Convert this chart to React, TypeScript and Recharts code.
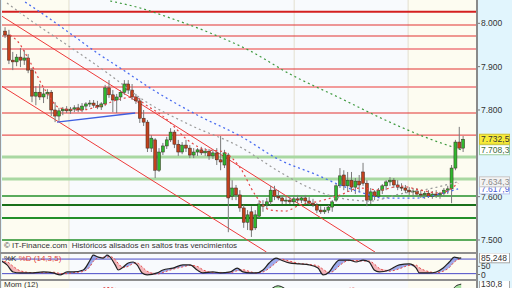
import React from "react";
import {
  ComposedChart,
  Bar,
  Line,
  Area,
  XAxis,
  YAxis,
  ReferenceLine,
  ReferenceArea,
} from "recharts";

// ─── Data (index points) ─────────────────────────────────────────────────────

const openP = [
  7982, 7973, 7915, 7911, 7922, 7915, 7920, 7892, 7832, 7841,
  7830, 7837, 7841, 7800, 7786, 7798, 7802, 7798, 7802, 7805,
  7800, 7809, 7814, 7816, 7811, 7807, 7814, 7851, 7835, 7823,
  7830, 7841, 7860, 7846, 7830, 7821, 7781, 7772, 7712, 7731,
  7661, 7703, 7717, 7731, 7749, 7721, 7703, 7719, 7712, 7696,
  7703, 7708, 7701, 7705, 7694, 7701, 7685, 7673, 7696, 7601,
  7620, 7604, 7574, 7541, 7565, 7528, 7555, 7578, 7581, 7588,
  7615, 7601, 7597, 7590, 7592, 7588, 7595, 7592, 7597, 7590,
  7585, 7581, 7569, 7565, 7569, 7576, 7592, 7625, 7650, 7625,
  7638, 7622, 7636, 7657, 7631, 7592, 7611, 7601, 7615, 7625,
  7634, 7638, 7627, 7622, 7620, 7615, 7611, 7613, 7606, 7604,
  7608, 7601, 7606, 7604, 7608, 7615, 7618, 7666, 7726, 7712,
];
const highP = [
  7991, 7985, 7934, 7929, 7943, 7938, 7929, 7897, 7855, 7860,
  7851, 7848, 7846, 7818, 7805, 7807, 7809, 7807, 7811, 7814,
  7816, 7818, 7823, 7823, 7821, 7818, 7858, 7869, 7846, 7837,
  7846, 7869, 7869, 7860, 7837, 7828, 7800, 7777, 7742, 7735,
  7712, 7724, 7738, 7758, 7754, 7731, 7726, 7731, 7719, 7712,
  7712, 7715, 7712, 7710, 7708, 7712, 7740, 7708, 7701, 7638,
  7627, 7615, 7581, 7569, 7578, 7569, 7592, 7592, 7597, 7625,
  7625, 7615, 7604, 7599, 7601, 7601, 7604, 7601, 7604, 7599,
  7595, 7585, 7578, 7576, 7581, 7592, 7631, 7666, 7661, 7657,
  7657, 7643, 7650, 7678, 7638, 7620, 7615, 7620, 7629, 7638,
  7645, 7643, 7638, 7631, 7627, 7622, 7620, 7620, 7615, 7613,
  7615, 7613, 7615, 7611, 7620, 7625, 7673, 7731, 7761, 7740,
];
const lowP = [
  7966, 7906, 7892, 7901, 7899, 7904, 7885, 7818, 7811, 7823,
  7816, 7825, 7786, 7772, 7775, 7788, 7793, 7791, 7795, 7795,
  7795, 7802, 7807, 7805, 7802, 7800, 7809, 7828, 7795, 7793,
  7821, 7835, 7837, 7823, 7814, 7770, 7763, 7703, 7703, 7643,
  7657, 7696, 7710, 7726, 7712, 7694, 7698, 7703, 7689, 7689,
  7694, 7696, 7694, 7685, 7687, 7673, 7661, 7666, 7518, 7592,
  7592, 7565, 7528, 7523, 7507, 7523, 7551, 7565, 7574, 7581,
  7592, 7592, 7583, 7583, 7583, 7583, 7585, 7585, 7585, 7581,
  7576, 7562, 7560, 7560, 7562, 7565, 7588, 7620, 7615, 7611,
  7611, 7606, 7611, 7625, 7578, 7583, 7592, 7597, 7606, 7615,
  7625, 7620, 7615, 7613, 7608, 7604, 7601, 7601, 7597, 7595,
  7597, 7595, 7597, 7595, 7601, 7606, 7585, 7661, 7708, 7703,
];
const closeP = [
  7973, 7915, 7911, 7922, 7915, 7920, 7892, 7832, 7841, 7830,
  7837, 7841, 7800, 7786, 7798, 7802, 7798, 7802, 7805, 7800,
  7809, 7814, 7816, 7811, 7807, 7814, 7851, 7835, 7823, 7830,
  7841, 7860, 7846, 7830, 7821, 7781, 7772, 7712, 7735, 7661,
  7703, 7717, 7731, 7749, 7721, 7703, 7719, 7712, 7696, 7703,
  7708, 7701, 7705, 7694, 7701, 7685, 7680, 7701, 7597, 7620,
  7604, 7574, 7541, 7558, 7523, 7558, 7583, 7581, 7588, 7615,
  7601, 7597, 7590, 7592, 7588, 7595, 7592, 7597, 7590, 7585,
  7581, 7569, 7565, 7569, 7576, 7588, 7625, 7648, 7625, 7638,
  7622, 7636, 7627, 7631, 7592, 7611, 7601, 7615, 7625, 7634,
  7638, 7627, 7622, 7620, 7615, 7611, 7613, 7606, 7604, 7608,
  7601, 7606, 7604, 7608, 7615, 7618, 7666, 7726, 7712, 7732.5,
];

// moving averages: [bar index, value]
const maLong: [number, number][] = [
  [27.3, 8051.5], [35.1, 8035.3], [42.9, 8012.3], [53.3, 7977.6], [63.7, 7936.1],
  [74.0, 7883.0], [87.0, 7827.6], [98.2, 7779.1], [103.4, 7758.4], [110.4, 7733.0],
  [118.5, 7708.3],
];
const maMid: [number, number][] = [
  [5.2, 8049.2], [11.7, 8010.0], [18.2, 7968.4], [24.7, 7926.9], [29.9, 7896.9],
  [38.5, 7846.1], [49.9, 7788.4], [61.1, 7739.9], [71.4, 7684.5], [81.1, 7649.9],
  [87.0, 7626.8], [93.0, 7608.4], [98.2, 7596.8], [107.0, 7596.8], [113.8, 7608.4],
  [117.7, 7617.9],
];
const maGray: [number, number][] = [
  [0.5, 8046.9], [6.5, 8007.6], [16.9, 7945.3], [27.3, 7880.7], [35.9, 7823.0],
  [48.1, 7765.3], [61.1, 7714.5], [71.4, 7656.8], [79.2, 7619.9], [87.0, 7596.8],
  [94.8, 7589.9], [102.6, 7606.1], [111.2, 7619.9], [117.7, 7634.3],
];
const maShort: [number, number][] = [
  [1.3, 7973.0], [3.4, 7956.9], [6.5, 7910.7], [10.4, 7846.1], [14.3, 7804.5],
  [19.5, 7799.9], [24.7, 7809.2], [29.9, 7825.3], [33.8, 7829.9], [35.9, 7816.1],
  [41.6, 7781.5], [48.1, 7726.1], [52.5, 7707.6], [55.9, 7705.3], [61.1, 7666.1],
  [65.0, 7603.8], [68.9, 7569.1], [72.8, 7566.8], [76.6, 7580.7], [81.8, 7589.9],
  [87.0, 7603.8], [92.2, 7619.9], [97.4, 7615.3], [102.6, 7624.5], [107.8, 7615.3],
  [113.0, 7608.4], [117.7, 7631.4],
];

// horizontal support / resistance levels
const redLevels = [8026.8, 7996.1, 7970.7, 7940.7, 7894.6, 7853.0, 7793.0, 7742.2];
const greenLevels = [7691.5, 7640.7, 7601.5, 7580.7, 7550.7, 7500];

// drawn channel lines and support line: [x1, y1, x2, y2]
const channelLines: [number, number, number, number][] = [
  [-0.8, 8016.2, 96.1, 7472.3],
  [-0.8, 7854.6, 67.9, 7472.3],
];
const supportLine: [number, number, number, number] = [13.5, 7772, 33.8, 7793];

const periodBreaks = [16.6, 75.1, 104.7];
const priceTicks = [7500, 7600, 7617.9, 7634.3, 7708.3, 7732.5, 7800, 7900, 8000];

// stochastic %K %D (14,3,5)
const stochX = [
  -1.3, 0.5, 2.1, 3.9, 7.3, 9.9, 12.5, 14.3, 16.1, 17.7,
  20.3, 22.1, 22.9, 24.2, 25.5, 26.5, 27.3, 28.6, 29.4, 30.7,
  32.0, 33.3, 34.3, 35.6, 36.9, 39.5, 41.0, 43.6, 46.2, 48.1,
  49.9, 51.4, 54.0, 55.9, 58.5, 60.3, 61.8, 63.7, 65.2, 67.0,
  68.6, 70.4, 71.7, 73.8, 76.4, 79.0, 81.3, 82.6, 84.2, 85.5,
  86.8, 89.4, 91.2, 93.0, 94.6, 95.9, 97.2, 99.8, 102.4, 105.0,
  106.8, 107.6, 110.2, 112.0, 113.8, 115.4, 116.7, 118.0, 118.5,
];
const stochK = [
  76, 56, 27, 23, 23, 27, 23, 15, 27, 27,
  35, 76, 96, 88, 84, 96, 88, 56, 35, 47,
  64, 68, 56, 23, 15, 23, 35, 43, 56, 56,
  35, 23, 27, 23, 27, 43, 27, 23, 23, 35,
  64, 84, 76, 64, 60, 56, 43, 15, 27, 56,
  76, 76, 68, 76, 68, 35, 27, 35, 56, 60,
  43, 23, 23, 27, 43, 68, 88, 84, 85.248,
];
const stochD = [
  70, 68, 50, 32, 24, 24, 26, 21, 20, 24,
  29, 50, 70, 85, 88, 88, 90, 78, 62, 45,
  50, 62, 64, 48, 30, 18, 25, 38, 48, 54,
  50, 36, 24, 25, 24, 32, 36, 28, 23, 27,
  42, 65, 80, 72, 62, 58, 52, 38, 24, 32,
  52, 74, 74, 72, 72, 60, 42, 30, 40, 54,
  55, 45, 28, 24, 30, 45, 68, 80, 83,
];
const stochTicks = [0, 50, 85.248];

// momentum (12)
const momX = [-1, 8, 16, 22, 26, 30, 38, 45, 52, 58, 64, 68, 71, 74, 80, 84, 87, 90, 95, 102, 110, 114, 116, 117, 118.5];
const momV = [-80, -200, -120, 20, 60, -10, -250, -100, -80, -300, -250, 40, 115, 60, -20, -60, 80, 60, -40, -10, -30, -20, 60, 110, 130.8];
const momSig = [-40, -120, -130, -40, 100, 80, -100, -160, -100, -150, -260, -100, 20, 60, 30, -20, 40, 95, 40, 0, -20, -20, 0, 40, 70];
const momTicks = [130.8];

// ─── Tables for the library ───────────────────────────────────────────────────

const candles = openP.map((o, i) => ({
  i, open: o, high: highP[i], low: lowP[i], close: closeP[i], range: [lowP[i], highP[i]],
}));
const series = (pts: [number, number][]) => pts.map(([i, v]) => ({ i, v }));
const stochData = stochX.map((i, j) => {
  const k = stochK[j], d = stochD[j];
  return { i, k, d, up: k >= d ? [d, k] : [k, k], dn: k < d ? [k, d] : [k, k] };
});
const momData = momX.map((i, j) => ({ i, m: momV[j], s: momSig[j] }));

const X_DOMAIN: [number, number] = [-0.8, 122.6];
const AXIS_X = 477;
const FONT = '"Liberation Sans", Arial, sans-serif';

// Spanish number style: 7.732,5
const fmt = (v: number) => {
  const dec = Math.abs(v - Math.round(v)) < 1e-6 ? 0 : Math.abs(v * 10 - Math.round(v * 10)) < 1e-6 ? 1 : 3;
  const [int, frac] = v.toFixed(dec).split(".");
  return int.replace(/\B(?=(\d{3})+(?!\d))/g, ".") + (frac ? "," + frac : "");
};

// ─── Shapes ───────────────────────────────────────────────────────────────────

const Candle = (props: any) => {
  const { x, y, width, height, payload } = props;
  if (height == null || !payload) return null;
  const top = Math.min(y, y + height);
  const h = Math.abs(height);
  const { open, high, low, close } = payload;
  const span = high - low || 1;
  const py = (p: number) => top + ((high - p) / span) * h;
  const cx = x + width / 2;
  const up = close >= open;
  const bt = py(Math.max(open, close));
  const bb = py(Math.min(open, close));
  return (
    <g>
      <line x1={cx} x2={cx} y1={top} y2={top + h} stroke="#7a7a7a" strokeWidth={1} />
      <rect
        x={cx - 1.5} y={bt} width={3} height={Math.max(1, bb - bt)}
        fill={up ? "#2fb82f" : "#c2411d"} stroke="#3b2a22" strokeWidth={0.5}
      />
    </g>
  );
};

const TAGS: Record<string, { bg: string; border: string; color: string }> = {
  "7732.5": { bg: "#f7ec3a", border: "#cfc031", color: "#333" },
  "7708.3": { bg: "#ffffff", border: "#9dcf9d", color: "#3e6b3e" },
  "7634.3": { bg: "#f3f3f3", border: "#c8c8c8", color: "#8a8a8a" },
  "7617.9": { bg: "#ffffff", border: "#b9c4ee", color: "#4a62d8" },
  "85.248": { bg: "#ffffff", border: "#a8a8a8", color: "#333" },
  "130.8": { bg: "#ffffff", border: "#a8a8a8", color: "#333" },
};

const AxisTick = ({ y, payload, lift = 0 }: any) => {
  const v = payload.value as number;
  const tag = TAGS[String(v)];
  const ty = y - (v === 0 ? lift : 0);
  return (
    <g>
      {!tag && <line x1={AXIS_X} x2={AXIS_X + 3} y1={ty} y2={ty} stroke="#777" />}
      {tag && (
        <rect x={AXIS_X + 2.5} y={ty - 5} width={30} height={10} fill={tag.bg} stroke={tag.border} strokeWidth={1} />
      )}
      <text x={AXIS_X + 4} y={ty + 3} fontSize={8.5} fontFamily={FONT} fill={tag ? tag.color : "#333"}>
        {fmt(v)}
      </text>
    </g>
  );
};

const backdrop = () => [
  <ReferenceArea key="b0" x1={X_DOMAIN[0]} x2={periodBreaks[0]} fill="#fdfcf1" fillOpacity={1} stroke="none" zIndex={5} />,
  <ReferenceArea key="b1" x1={periodBreaks[0]} x2={periodBreaks[2]} fill="#f8fafd" fillOpacity={1} stroke="none" zIndex={5} />,
  <ReferenceArea key="b2" x1={periodBreaks[2]} x2={X_DOMAIN[1]} fill="#fdfcf1" fillOpacity={1} stroke="none" zIndex={5} />,
];
const gridLines = () =>
  periodBreaks.map((b) => <ReferenceLine key={"g" + b} x={b} stroke="#e3dfcf" strokeWidth={1} zIndex={6} />);

// ─── Component ────────────────────────────────────────────────────────────────

export default function App() {
  const margin = { top: 0, right: 0, bottom: 0, left: 2 };
  return (
    <div style={s.wrap}>
      <style>{"body{margin:0}"}</style>

      {/* Price panel */}
      <div style={{ position: "absolute", left: 0, top: 0 }}>
        <ComposedChart width={512} height={252} data={candles} margin={margin}>
          <XAxis type="number" dataKey="i" domain={X_DOMAIN} hide allowDataOverflow />
          <YAxis
            orientation="right" width={35} domain={[7472.3, 8053.8]} allowDataOverflow
            ticks={priceTicks} interval={0} tick={<AxisTick />} axisLine={false} tickLine={false}
          />
          {backdrop()}
          {gridLines()}
          {redLevels.map((lv, k) => (
            <ReferenceLine
              key={lv} y={lv} zIndex={7}
              stroke={k === 0 ? "#d42020" : k === 3 || k === 5 ? "#f29a9a" : k === 7 ? "#e85a5a" : "#e23232"}
              strokeWidth={k === 0 ? 2 : k === 3 || k === 5 ? 2.2 : 1.2}
            />
          ))}
          {greenLevels.map((lv, k) => (
            <ReferenceLine
              key={lv} y={lv} zIndex={7}
              stroke={k < 2 ? "#a9d8a2" : k === 3 ? "#19701a" : "#23902a"}
              strokeWidth={k < 2 ? 3 : k === 2 || k === 5 ? 1.5 : 2}
            />
          ))}
          {channelLines.map(([x1, y1, x2, y2], k) => (
            <ReferenceLine key={k} segment={[{ x: x1, y: y1 }, { x: x2, y: y2 }]} stroke="#ee3a3a" strokeWidth={1} zIndex={8} />
          ))}
          <ReferenceLine
            segment={[{ x: supportLine[0], y: supportLine[1] }, { x: supportLine[2], y: supportLine[3] }]}
            stroke="#3f5fe0" strokeWidth={1.5} zIndex={8}
          />

          <Line data={series(maLong)} dataKey="v" type="monotone" stroke="#3f9a3f" strokeWidth={1.2} strokeDasharray="2 3" dot={false} isAnimationActive={false} />
          <Line data={series(maMid)} dataKey="v" type="monotone" stroke="#4a6cf0" strokeWidth={1.3} strokeDasharray="2 3" dot={false} isAnimationActive={false} />
          <Line data={series(maGray)} dataKey="v" type="monotone" stroke="#9a9a9a" strokeWidth={1.2} strokeDasharray="2 3" dot={false} isAnimationActive={false} />
          <Line data={series(maShort)} dataKey="v" type="monotone" stroke="#e54545" strokeWidth={1.2} strokeDasharray="2 3" dot={false} isAnimationActive={false} />

          <Bar dataKey="range" barSize={3} shape={<Candle />} isAnimationActive={false} />
        </ComposedChart>
      </div>

      {/* Stochastic panel */}
      <div style={{ position: "absolute", left: 0, top: 253 }}>
        <ComposedChart width={512} height={26} data={stochData} margin={margin}>
          <XAxis type="number" dataKey="i" domain={X_DOMAIN} hide allowDataOverflow />
          <YAxis
            orientation="right" width={35} domain={[-2, 105]} allowDataOverflow
            ticks={stochTicks} interval={0} tick={<AxisTick lift={4} />} axisLine={false} tickLine={false}
          />
          {backdrop()}
          {gridLines()}
          <ReferenceLine y={80} stroke="#4a4ac8" strokeWidth={1} zIndex={7} />
          <ReferenceLine y={20} stroke="#4a4ac8" strokeWidth={1} zIndex={7} />
          <Area dataKey="up" type="monotone" stroke="none" fill="#7f8fe6" fillOpacity={0.75} dot={false} activeDot={false} isAnimationActive={false} />
          <Area dataKey="dn" type="monotone" stroke="none" fill="#f3a9ae" fillOpacity={0.85} dot={false} activeDot={false} isAnimationActive={false} />
          <Line dataKey="d" type="monotone" stroke="#e34a4a" strokeWidth={1} strokeDasharray="2 2" dot={false} isAnimationActive={false} />
          <Line dataKey="k" type="monotone" stroke="#222" strokeWidth={1.2} dot={false} isAnimationActive={false} />
        </ComposedChart>
      </div>

      {/* Momentum panel (mostly below the fold) */}
      <div style={{ position: "absolute", left: 0, top: 281 }}>
        <ComposedChart width={512} height={60} data={momData} margin={margin}>
          <XAxis type="number" dataKey="i" domain={X_DOMAIN} hide allowDataOverflow />
          <YAxis
            orientation="right" width={35} domain={[-400, 160]} allowDataOverflow
            ticks={momTicks} interval={0} tick={<AxisTick />} axisLine={false} tickLine={false}
          />
          {backdrop()}
          <Area dataKey="m" type="monotone" stroke="#222" strokeWidth={1} fill="#9ede9a" fillOpacity={0.9} baseValue={-400} dot={false} activeDot={false} isAnimationActive={false} />
          <Line dataKey="s" type="monotone" stroke="#e34a4a" strokeWidth={1} strokeDasharray="2 2" dot={false} isAnimationActive={false} />
        </ComposedChart>
      </div>

      {/* Panel frames */}
      <div style={{ ...s.vline, left: 0 }} />
      <div style={{ ...s.vline, left: 476, width: 2, background: "#8a8a8a" }} />
      <div style={{ ...s.hline, top: 252 }} />
      <div style={{ ...s.hline, top: 279 }} />

      <div style={{ ...s.caption, top: 241 }}>© IT-Finance.com&nbsp; Históricos alisados en saltos tras vencimientos</div>
      <div style={{ ...s.caption, top: 254 }}>
        <span style={{ color: "#222" }}>%K</span> <span style={{ color: "#e04040" }}>%D (14,3,5)</span>
      </div>
      <div style={{ ...s.caption, top: 280, lineHeight: "9px" }}>Mom (12)</div>
    </div>
  );
}

const s: Record<string, React.CSSProperties> = {
  wrap: {
    position: "fixed", left: 0, top: 0, width: 512, height: 288, overflow: "hidden",
    background: "#e1f5fd", fontFamily: FONT,
  },
  vline: { position: "absolute", top: 0, width: 1, height: 288, background: "#9a9a9a" },
  hline: { position: "absolute", left: 0, width: 477, height: 2, background: "#8f8f8f" },
  caption: { position: "absolute", left: 4, fontSize: 8, lineHeight: "10px", color: "#333", whiteSpace: "nowrap" },
};
